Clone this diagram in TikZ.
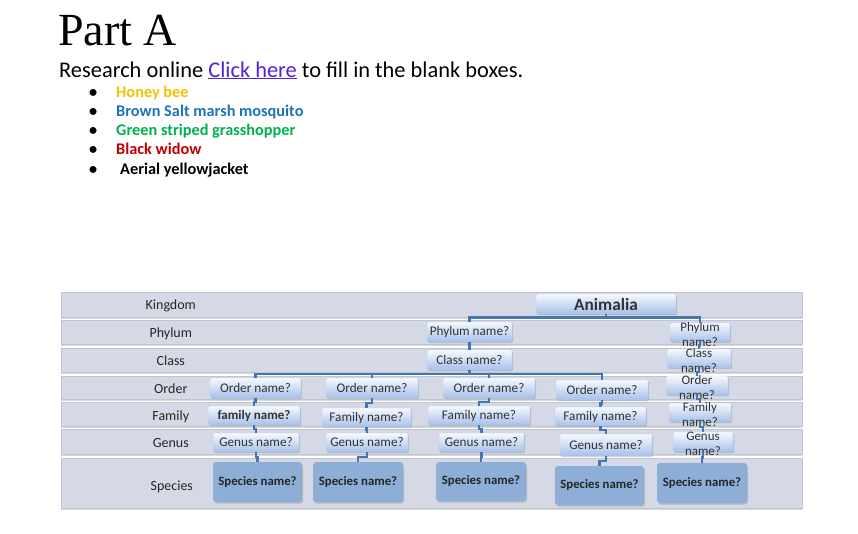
\documentclass[tikz,border=0pt]{standalone}
\usepackage{fontspec}
\setmainfont{Carlito}
\newfontfamily\titlefont{Liberation Serif}
\usepackage{xcolor}
\usepackage{tikz}
\usetikzlibrary{calc,shadows}

\definecolor{bandfill}{HTML}{D4D9E5}
\definecolor{banddraw}{HTML}{BEC4D1}
\definecolor{boxtop}{HTML}{F6F9FE}
\definecolor{boxbot}{HTML}{A6C0EA}
\definecolor{spfill}{HTML}{8DAED6}
\definecolor{linkblue}{HTML}{4576B0}
\definecolor{hrefcol}{HTML}{5420DA}
\definecolor{honey}{HTML}{F2C200}
\definecolor{mosq}{HTML}{1F72B8}
\definecolor{grass}{HTML}{00B050}
\definecolor{widow}{HTML}{C00000}

\begin{document}
\begin{tikzpicture}[
    x=1pt, y=-1pt,
    band/.style={draw=banddraw, fill=bandfill, line width=0.4pt, minimum width=741pt,
                 inner sep=0pt, drop shadow={shadow xshift=0pt, shadow yshift=-1.5pt, opacity=0.3}},
    rowlab/.style={font=\fontsize{14}{16}\selectfont, text=black!85},
    namebox/.style={top color=boxtop, bottom color=boxbot, draw=boxbot!80, line width=0.3pt,
                    rounded corners=1.5pt, inner sep=0pt, minimum height=19pt,
                    font=\fontsize{13.2}{15}\selectfont, text=black!80,
                    drop shadow={shadow xshift=1pt, shadow yshift=-1.2pt, opacity=0.35}},
    twoline/.style={align=center, inner sep=0pt, font=\fontsize{13}{14.5}\selectfont, text=black!80},
    spbox/.style={fill=spfill, rounded corners=3pt, inner sep=0pt, minimum height=40pt,
                  font=\bfseries\fontsize{12.8}{14}\selectfont, text=black!85,
                  drop shadow={shadow xshift=1pt, shadow yshift=-1.5pt, opacity=0.35}},
    link/.style={draw=linkblue, line width=2.6pt},
    elbow/.style={link, to path={|- ($(\tikztostart)!.5!(\tikztotarget)$) -| (\tikztotarget)}},
    item/.style={anchor=base west, inner sep=0pt, font=\bfseries\fontsize{16.3}{18}\selectfont}
]
\useasboundingbox (0,0) rectangle (858,533);

% heading and list
\node[anchor=base west, inner sep=0pt, font=\titlefont\fontsize{46}{50}\selectfont] (title) at (58,45) {Part A};
\node[anchor=base west, inner sep=0pt, font=\fontsize{22.4}{25}\selectfont] (intro) at (59,77)
    {Research online \textcolor{hrefcol}{\underline{Click here}} to fill in the blank boxes.};
\node[item] (it1) at (89,97) {\makebox[27pt][l]{\textbullet}\textcolor{honey}{Honey bee}};
\node[item] (it2) at (89,116.3) {\makebox[27pt][l]{\textbullet}\textcolor{mosq}{Brown Salt marsh mosquito}};
\node[item] (it3) at (89,135.6) {\makebox[27pt][l]{\textbullet}\textcolor{grass}{Green striped grasshopper}};
\node[item] (it4) at (89,154.9) {\makebox[27pt][l]{\textbullet}\textcolor{widow}{Black widow}};
\node[item] (it5) at (89,174.2) {\makebox[31pt][l]{\textbullet}Aerial yellowjacket};

% rank bands
\node[band, minimum height=25pt] (kband) at (431.5,304.5) {};
\node[band, minimum height=24pt] (pband) at (431.5,332) {};
\node[band, minimum height=24pt] (cband) at (431.5,360) {};
\node[band, minimum height=23pt] (oband) at (431.5,387.5) {};
\node[band, minimum height=24pt] (fband) at (431.5,414) {};
\node[band, minimum height=25pt] (gband) at (431.5,441.5) {};
\node[band, minimum height=50pt] (sband) at (431.5,483) {};

\node[rowlab] (klab) at ([xshift=110pt,yshift=-1.5pt]kband.west) {Kingdom};
\node[rowlab] (plab) at ([xshift=110pt,yshift=-2pt]pband.west) {Phylum};
\node[rowlab] (clab) at ([xshift=110pt,yshift=-1pt]cband.west) {Class};
\node[rowlab] (olab) at ([xshift=110pt,yshift=-1pt]oband.west) {Order};
\node[rowlab] (flab) at ([xshift=110pt,yshift=-2.5pt]fband.west) {Family};
\node[rowlab] (glab) at ([xshift=110pt,yshift=-1.5pt]gband.west) {Genus};
\node[rowlab] (slab) at ([xshift=111pt,yshift=-4pt]sband.west) {Species};

% name boxes
\node[namebox, minimum width=140pt, minimum height=20pt, font=\bfseries\fontsize{17.3}{19}\selectfont] (anim) at (606,304) {Animalia};
\node[namebox, minimum width=85pt, minimum height=20pt] (ph1) at (469.5,332) {Phylum name?};
\node[namebox, minimum width=60pt] (ph2) at (700,332.5) {};
\node[namebox, minimum width=85pt, minimum height=20pt] (cl1) at (469.5,360) {Class name?};
\node[namebox, minimum width=64pt] (cl2) at (699,358.5) {};

\node[namebox, minimum width=91pt, minimum height=20pt] (o1) at (255.5,388) {Order name?};
\node[namebox, minimum width=92pt, minimum height=20pt] (o2) at (372,388) {Order name?};
\node[namebox, minimum width=92pt, minimum height=20pt] (o3) at (489,388) {Order name?};
\node[namebox, minimum width=92pt, minimum height=20pt] (o4) at (602,390) {Order name?};
\node[namebox, minimum width=62pt] (o5) at (697,385.5) {};

\node[namebox, minimum width=92pt, font=\bfseries\fontsize{13}{15}\selectfont] (f1) at (254,415.5) {family name?};
\node[namebox, minimum width=89pt] (f2) at (366.5,417.5) {Family name?};
\node[namebox, minimum width=102pt] (f3) at (479,415.5) {Family name?};
\node[namebox, minimum width=91pt] (f4) at (600.5,416.5) {Family name?};
\node[namebox, minimum width=62pt] (f5) at (700,412.5) {};

\node[namebox, minimum width=86pt] (g1) at (256,442.5) {Genus name?};
\node[namebox, minimum width=82pt] (g2) at (367,442.5) {Genus name?};
\node[namebox, minimum width=85pt] (g3) at (481.5,442.5) {Genus name?};
\node[namebox, minimum width=92pt, minimum height=22pt] (g4) at (606,445) {Genus name?};
\node[namebox, minimum width=60pt, minimum height=20pt] (g5) at (703,442) {};

\node[spbox, minimum width=89pt] (s1) at (257.5,482) {Species name?};
\node[spbox, minimum width=90pt] (s2) at (358,482) {Species name?};
\node[spbox, minimum width=90pt, minimum height=39pt] (s3) at (481,481.5) {Species name?};
\node[spbox, minimum width=89pt, minimum height=39pt] (s4) at (599.5,485.5) {Species name?};
\node[spbox, minimum width=90pt] (s5) at (702,483) {Species name?};

% two-line labels of the right column
\node[twoline] (ph2t) at ([yshift=-2pt]ph2.center) {Phylum\\name?};
\node[twoline] (cl2t) at ([yshift=-2pt]cl2.center) {Class\\name?};
\node[twoline] (o5t) at ([yshift=-2pt]o5.center) {Order\\name?};
\node[twoline] (f5t) at ([yshift=-2pt]f5.center) {Family\\name?};
\node[twoline] (g5t) at ([yshift=-2pt]g5.center) {Genus\\name?};

% connectors
\coordinate (kbus) at (0,317.5);
\coordinate (cbus) at (0,374);
\draw[link] (anim.south) -- (anim.south |- kbus);
\draw[link] (ph1.north) |- (kbus -| ph2.north) -- (ph2.north);
\draw[elbow] (ph1.south) to (cl1.north);
\draw[elbow] (ph2.south) to (cl2.north);
\draw[link] (cl1.south) -- (cl1.south |- cbus);
\draw[link] (o1.north) |- (cbus -| o4.north) -- (o4.north);
\draw[link] (o2.north) -- (o2.north |- cbus);
\draw[link] (o3.north) -- (o3.north |- cbus);
\draw[elbow] (cl2.south) to (o5.north);

\draw[elbow] (o1.south) to (f1.north);
\draw[elbow] (o2.south) to (f2.north);
\draw[elbow] (o3.south) to (f3.north);
\draw[elbow] (o4.south) to (f4.north);
\draw[elbow] (o5.south) to (f5.north);

\draw[elbow] (f1.south) to (g1.north);
\draw[elbow] (f2.south) to (g2.north);
\draw[elbow] (f3.south) to (g3.north);
\draw[elbow] (f4.south) to (g4.north);
\draw[elbow] (f5.south) to (g5.north);

\draw[elbow] (g1.south) to (s1.north);
\draw[elbow] (g2.south) to (s2.north);
\draw[elbow] (g3.south) to (s3.north);
\draw[elbow] (g4.south) to (s4.north);
\draw[elbow] (g5.south) to (s5.north);

\end{tikzpicture}
\end{document}
